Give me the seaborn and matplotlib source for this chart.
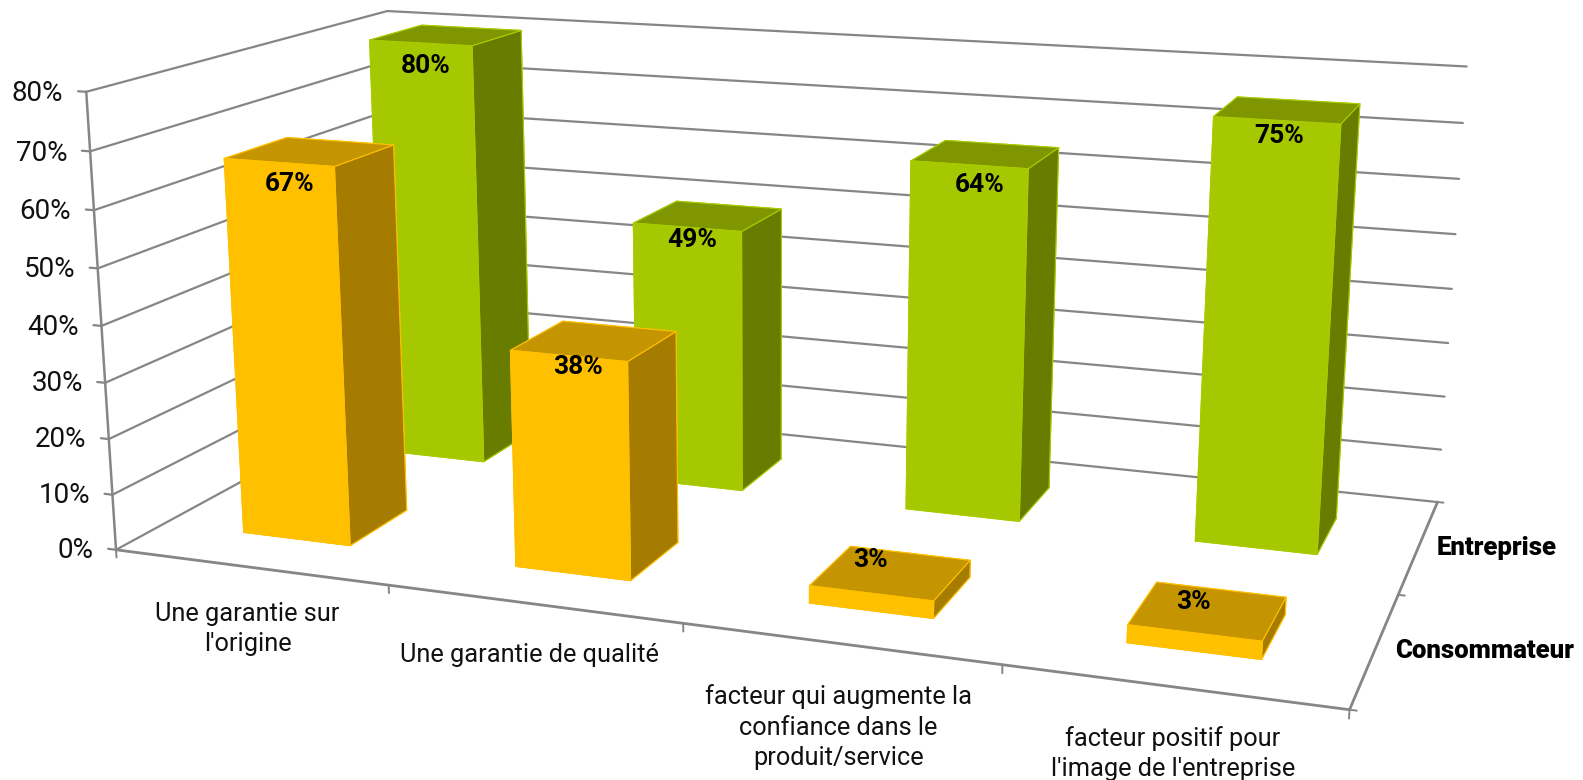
"""
Histogramme 3D : consommateur / entreprise par catégorie
"""
import matplotlib
matplotlib.use("Agg")
import matplotlib.pyplot as plt
from mpl_toolkits.mplot3d import proj3d
import seaborn as sns
import numpy as np

categories = ["Une garantie sur\nl'origine", "Une garantie de qualité",
              "facteur qui augmente la\nconfiance dans le\nproduit/service",
              "facteur positif pour\nl'image de l'entreprise"]
series = ["Consommateur", "Entreprise"]
consommateur = [67, 38, 3, 3]
entreprise = [80, 49, 64, 75]
z_ticks = [0, 10, 20, 30, 40, 50, 60, 70, 80]

# repere de la vue : coin du graphique (categorie, profondeur, %) -> pixel de l'image
camera_xyz = [(0, 0, 0), (1, 0, 0), (2, 0, 0), (3, 0, 0), (4, 0, 0), (4, 1, 0), (4, 2, 0), (4, 2, 80),
              (4, 2, 70), (4, 2, 60), (4, 2, 50), (0, 2, 80), (0, 0, 80), (0, 0, 70), (0, 0, 60),
              (0, 0, 50), (0, 0, 20), (0, 0, 10)]
camera_px = [(116.5, 550), (389, 585), (682.7, 624), (1001.7, 665.7), (1349, 709), (1400, 594), (1437, 502),
             (1467, 67), (1463, 123), (1459, 179), (1455, 234), (387, 11), (86, 92), (90, 151), (94.6, 210),
             (98, 268), (108, 439), (112.6, 495)]

W, H = 1583, 780
BAR_W = 0.4
BAR_D = 0.4
ORANGE = ["#FFC000", "#C49500", "#FFC000", "#FFC000", "#A67C00", "#A67C00"]
VERT = ["#A6C800", "#7F9600", "#A6C800", "#A6C800", "#687C00", "#687C00"]
GRIS = "#868686"

# decalages des etiquettes (pixels), par rangée puis catégorie
nudge_conso = [(2, -2), (0, 8), (-39, 4), (-31, -1)]
nudge_entr = [(-3, -6), (-3, 5), (2, -2), (-6, 4)]
cat_shift = [0.0, 0.0, 0.012, 0.022]
cat_drop = [6.3, 6.9, 6.9, 6.3]


def fit_camera(xyz, px):
    """Matrice de projection 3x4 par moindres carrés"""
    A, b = [], []
    for (x, y, z), (u, v) in zip(xyz, px):
        A.append([x, y, z, 1, 0, 0, 0, 0, -u * x, -u * y, -u * z])
        A.append([0, 0, 0, 0, x, y, z, 1, -v * x, -v * y, -v * z])
        b += [u, v]
    h = np.linalg.lstsq(np.array(A, float), np.array(b, float), rcond=None)[0]
    return np.append(h, 1.0).reshape(3, 4)


def put_text(x, y, z, s, dx=0, dy=0, **kw):
    """Texte placé en coordonnées 3D, décalé de quelques pixels"""
    px, py, _ = proj3d.proj_transform(x, y, z, M)
    ax.annotate(s, xy=(px, py), xycoords="data", xytext=(dx, dy), textcoords="offset pixels",
                annotation_clip=False, **kw)


sns.set_theme(style="white")
plt.rcParams["font.family"] = ["Roboto", "DejaVu Sans"]

fig = plt.figure(figsize=(W / 100, H / 100), dpi=100)
ax = fig.add_axes([0, 0, 1, 1], projection="3d")
ax.set_axis_off()
ax.computed_zorder = False
ax.apply_aspect = lambda position=None: None

P = fit_camera(camera_xyz, camera_px)
vl = ax.viewLim
M = np.vstack([(vl.x1 - vl.x0) / W * P[0] + vl.x0 * P[2],
               -(vl.y1 - vl.y0) / H * P[1] + vl.y1 * P[2],
               [0, 0, 0, -1],
               P[2]])
ax.get_proj = lambda: M

# murs : lignes de grille et axes
for t in z_ticks:
    ax.plot([0, 0, 4], [0, 2, 2], [t, t, t], color=GRIS, lw=1.6, zorder=1)
    ax.plot([-0.03, 0], [0, 0], [t, t], color=GRIS, lw=1.6, zorder=1)
    put_text(-0.085, 0, t - 0.6, f"{t}%", ha="right", va="center", fontsize=20, color="#111111", zorder=10)
ax.plot([0, 0], [0, 0], [0, 80], color=GRIS, lw=1.8, zorder=1)
ax.plot([0, 4, 4], [0, 0, 2], [0, 0, 0], color=GRIS, lw=2, zorder=1)
for i in range(5):
    ax.plot([i, i], [0, 0], [0, -1.4], color=GRIS, lw=1.4, zorder=1)
for j in range(3):
    ax.plot([4, 4.02], [j, j], [0, 0], color=GRIS, lw=1.4, zorder=1)

# barres : rangée du fond d'abord
rows = [(consommateur, ORANGE, "#FFC000", nudge_conso), (entreprise, VERT, "#A9CC00", nudge_entr)]
for j, (vals, cols, edge, nudges) in reversed(list(enumerate(rows))):
    for i, v in enumerate(vals):
        ax.bar3d(i + 0.5 - BAR_W / 2, j + 0.5 - BAR_D / 2, 0, BAR_W, BAR_D, v, color=cols, shade=False,
                 edgecolor=edge, linewidth=0.8, zorder=3 - j)
        if v > 5:
            yl, zl = j + 0.5 - BAR_D / 2, v - 3.2
        else:
            yl, zl = j + 0.6, v
        put_text(i + 0.53, yl, zl, f"{v}%", dx=nudges[i][0], dy=nudges[i][1], ha="center", va="center",
                 fontsize=19, fontweight="bold", color="black", zorder=11)

# etiquettes
for i, c in enumerate(categories):
    put_text(i + 0.485 + cat_shift[i], 0, -cat_drop[i], c, ha="center", va="top", fontsize=18.3,
             color="#111111", linespacing=1.32, zorder=10)
for j, s in enumerate(series):
    put_text(4.058, j + 0.5, 0, s, ha="left", va="center", fontsize=18.5, fontweight="black", color="black",
             zorder=10)

fig.savefig("out.png", dpi=100)
